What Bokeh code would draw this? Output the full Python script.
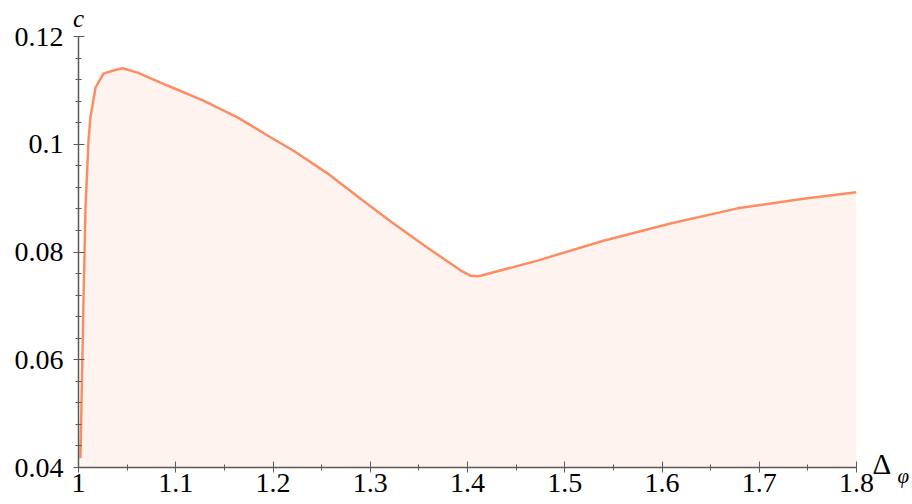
from bokeh.plotting import figure
from bokeh.models import Range1d, FixedTicker, CustomJSTickFormatter, LinearAxis
from bokeh.embed import file_html
from bokeh.resources import INLINE

# Data
delta_phi = [1.002, 1.005, 1.0072, 1.0103, 1.0123, 1.0175, 1.0257, 1.036, 1.0452,
             1.0607, 1.0915, 1.1285, 1.1635, 1.1974, 1.2211, 1.256, 1.290, 1.3239,
             1.3589, 1.3928, 1.403, 1.4103, 1.4134, 1.472, 1.5398, 1.6087, 1.6776,
             1.7455, 1.8]
c_values = [0.0417, 0.0697, 0.0883, 0.1007, 0.1050, 0.1105, 0.1131, 0.1137, 0.1141,
            0.1133, 0.1109, 0.1081, 0.1050, 0.1013, 0.0988, 0.0946, 0.0899, 0.0853,
            0.0808, 0.0766, 0.0756, 0.0755, 0.0756, 0.0784, 0.0821, 0.0853, 0.0881,
            0.0899, 0.0911]
x_ticks = [1.0, 1.1, 1.2, 1.3, 1.4, 1.5, 1.6, 1.7, 1.8]
x_minor = [1.05, 1.15, 1.25, 1.35, 1.45, 1.55, 1.65, 1.75]
y_ticks = [0.04, 0.06, 0.08, 0.10, 0.12]
y_minor = [0.044, 0.048, 0.052, 0.056, 0.064, 0.068, 0.072, 0.076,
           0.084, 0.088, 0.092, 0.096, 0.104, 0.108, 0.112, 0.116]
y_name = "c"
x_name = "Δ"
x_name_sub = "φ"

LINE = "#fc8d62"
AXIS = "#5a5a5a"
FONT = "Liberation Serif"

p = figure(width=912, height=504, output_backend="svg", toolbar_location=None,
           x_range=Range1d(1.0, 1.8), y_range=Range1d(0.04, 0.12),
           min_border_left=78, min_border_right=56, min_border_top=36,
           min_border_bottom=37)
p.outline_line_color = None
p.grid.visible = False
p.background_fill_color = "white"

p.varea(x=delta_phi, y1=0.04, y2=c_values, fill_color=LINE, fill_alpha=0.1)
p.line(delta_phi, c_values, line_color=LINE, line_width=2.5)

fmt = CustomJSTickFormatter(code="return tick.toFixed(2).replace(/0+$/,'').replace(/\\.$/,'');")

for ax, maj, mnr in ((p.xaxis[0], x_ticks, x_minor), (p.yaxis[0], y_ticks, y_minor)):
    ax.ticker = FixedTicker(ticks=maj, minor_ticks=mnr)
    ax.formatter = fmt
    ax.axis_line_color = AXIS
    ax.axis_line_width = 1.5
    ax.major_tick_line_color = AXIS
    ax.minor_tick_line_color = AXIS
    ax.major_tick_line_width = 1
    ax.minor_tick_line_width = 1
    ax.major_tick_in = 6
    ax.major_tick_out = 5
    ax.minor_tick_in = 3
    ax.minor_tick_out = 3
    ax.major_label_text_font = FONT
    ax.major_label_text_font_size = "28px"
    ax.major_label_text_color = "black"

p.xaxis[0].major_label_standoff = 1
p.yaxis[0].major_label_standoff = 10


def name_axis(label, tick, style, size, standoff):
    return LinearAxis(ticker=FixedTicker(ticks=[tick], minor_ticks=[]),
                      formatter=CustomJSTickFormatter(code="return %r;" % label),
                      axis_line_color=None, major_tick_line_color=None,
                      minor_tick_line_color=None, major_tick_in=0, major_tick_out=0,
                      minor_tick_in=0, minor_tick_out=0,
                      major_label_standoff=standoff,
                      major_label_text_font=FONT,
                      major_label_text_font_style=style,
                      major_label_text_font_size=size,
                      major_label_text_color="black")


# "c" above the top of the y axis
p.add_layout(name_axis(y_name, 1.0, "italic", "25px", 5), "above")
# "Δ" and subscript "φ" right of the x axis end
p.add_layout(name_axis(x_name, 0.0407, "normal", "29px", 16), "right")
p.add_layout(name_axis("\n" + x_name_sub, 0.04104, "italic", "21px", 3), "right")

open("out.html", "w").write(file_html(p, INLINE))
